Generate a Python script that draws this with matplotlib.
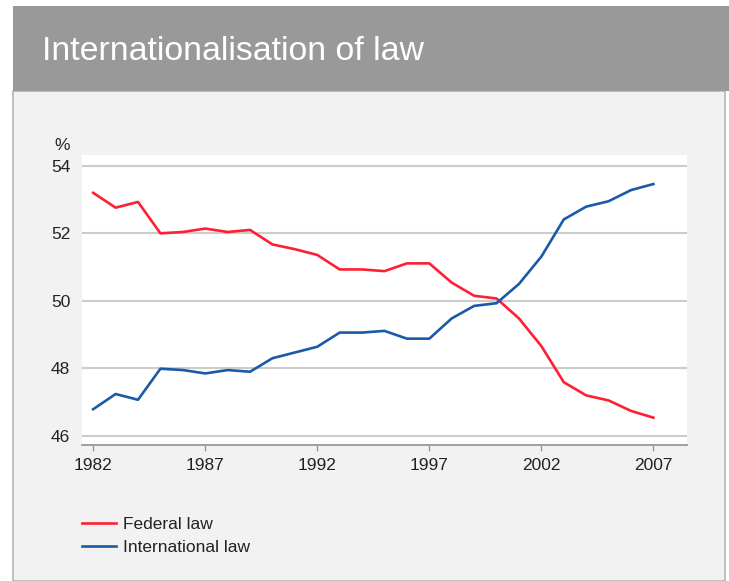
import matplotlib
matplotlib.use("Agg")
import matplotlib.pyplot as plt
from matplotlib.patches import Rectangle

plt.rcParams['font.family'] = ['Liberation Sans', 'DejaVu Sans']

years = list(range(1982, 2008))
federal = [53.20, 52.76, 52.93, 52.00, 52.04, 52.14, 52.04, 52.10, 51.67, 51.53,
           51.36, 50.93, 50.93, 50.88, 51.11, 51.11, 50.54, 50.15, 50.07, 49.48,
           48.66, 47.59, 47.20, 47.05, 46.74, 46.54]
international = [46.79, 47.24, 47.07, 47.99, 47.95, 47.85, 47.95, 47.90, 48.30, 48.47,
                 48.64, 49.06, 49.06, 49.11, 48.88, 48.88, 49.48, 49.85, 49.93, 50.50,
                 51.31, 52.41, 52.79, 52.95, 53.28, 53.46]
series_names = ["Federal law", "International law"]
xticks = [1982, 1987, 1992, 1997, 2002, 2007]
yticks = [46, 48, 50, 52, 54]
title = "Internationalisation of law"

W, H = 729, 581
fig = plt.figure(figsize=(W / 100, H / 100), dpi=100)
fig.patch.set_facecolor('white')

def fx(x):
    return x / W

def fy(y):
    return 1 - y / H

# panel
fig.patches.append(Rectangle((fx(12.5), fy(581)), fx(725) - fx(12.5), fy(91) - fy(581),
                             transform=fig.transFigure, facecolor='#f2f2f2',
                             edgecolor='#b4b4b4', linewidth=1.2, zorder=0))
# header
fig.patches.append(Rectangle((fx(12.5), fy(90.5)), fx(729) - fx(12.5), fy(6) - fy(90.5),
                             transform=fig.transFigure, facecolor='#999999',
                             edgecolor='none', zorder=1))
fig.text(fx(42), fy(59.5), title, color='white', fontsize=24.4,
         ha='left', va='baseline', zorder=3)

ax = fig.add_axes([fx(82), fy(445), fx(687) - fx(82), fy(155) - fy(445)])
ax.set_zorder(5)
ax.set_facecolor('white')
ax.plot(years, federal, color='#ff1f35', linewidth=1.9, label=series_names[0], zorder=3)
ax.plot(years, international, color='#1a5aa6', linewidth=1.9, label=series_names[1], zorder=3)

ax.set_xlim(1981.5, 2008.5)
ax.set_ylim(45.73, 54.32)
ax.set_xticks(xticks)
ax.set_yticks(yticks)
ax.set_xticklabels([str(v) for v in xticks])
ax.set_yticklabels([str(v) for v in yticks])
ax.grid(axis='y', color='#cccccc', linewidth=1.5, zorder=1)
ax.set_axisbelow(True)
for s in ['top', 'right', 'left']:
    ax.spines[s].set_visible(False)
ax.spines['bottom'].set_color('#999999')
ax.spines['bottom'].set_linewidth(1.3)
ax.tick_params(axis='y', length=0, pad=8.5, labelsize=12.5, labelcolor='#222222')
ax.tick_params(axis='x', length=4, width=1, color='#999999', pad=5,
               labelsize=12.5, labelcolor='#222222')

fig.text(fx(70), fy(149.5), '%', fontsize=12.5, color='#222222', ha='right',
         va='baseline', zorder=3)

leg = fig.legend(loc='upper left', bbox_to_anchor=(fx(82), fy(517)),
                 bbox_transform=fig.transFigure, frameon=False, fontsize=12.5,
                 handlelength=1.95, handletextpad=0.4, labelspacing=0.47,
                 borderaxespad=0, borderpad=0)
leg.set_zorder(6)
for t in leg.get_texts():
    t.set_color('#222222')

fig.savefig('out.png', dpi=100, facecolor=fig.get_facecolor())
